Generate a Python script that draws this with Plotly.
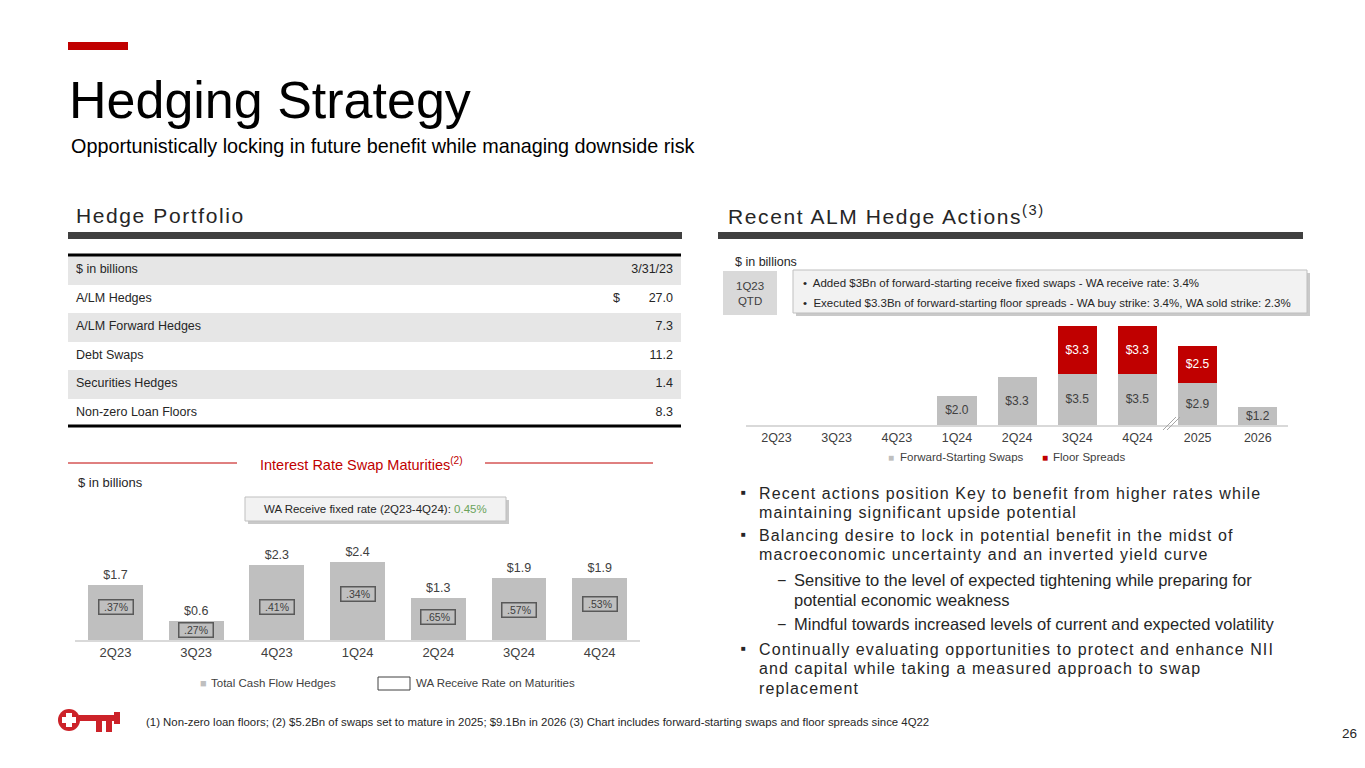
import plotly.graph_objects as go

# The page body has an 8px default margin, so the figure is laid out 8px in.
OFF = 8
W, H = 1365 - OFF, 768 - OFF
FONT = "Liberation Sans, Arial, sans-serif"
RED = "#c00000"
GRAY_BAR = "#bfbfbf"
DARK = "#262626"
MID = "#404040"

def X(px):
    return (px - OFF) / W

def Y(py):
    return 1 - (py - OFF) / H

# ---------------- data ----------------
table_labels = ["$ in billions", "A/LM Hedges", "A/LM Forward Hedges", "Debt Swaps",
                "Securities Hedges", "Non-zero Loan Floors"]
table_currency = ["", "$", "", "", "", ""]
table_values = ["3/31/23", "27.0", "7.3", "11.2", "1.4", "8.3"]

swap_quarters = ["2Q23", "3Q23", "4Q23", "1Q24", "2Q24", "3Q24", "4Q24"]
swap_maturities = [1.7, 0.6, 2.3, 2.4, 1.3, 1.9, 1.9]
swap_rates = [".37%", ".27%", ".41%", ".34%", ".65%", ".57%", ".53%"]
rate_label_pos = [1.02, 0.30, 1.02, 1.41, 0.70, 0.93, 1.10]  # label placement inside bars

alm_periods = ["2Q23", "3Q23", "4Q23", "1Q24", "2Q24", "3Q24", "4Q24", "2025", "2026"]
fwd_swaps = [None, None, None, 2.0, 3.3, 3.5, 3.5, 2.9, 1.2]
floor_spreads = [None, None, None, None, None, 3.3, 3.3, 2.5, None]

bullets = [
    ("main", ["Recent actions position Key to benefit from higher rates while",
              "maintaining significant upside potential"]),
    ("main", ["Balancing desire to lock in potential benefit in the midst of",
              "macroeconomic uncertainty and an inverted yield curve"]),
    ("sub", ["Sensitive to the level of expected tightening while preparing for",
             "potential economic weakness"]),
    ("sub", ["Mindful towards increased levels of current and expected volatility"]),
    ("main", ["Continually evaluating opportunities to protect and enhance NII",
              "and capital while taking a measured approach to swap",
              "replacement"]),
]
bullet_tops = [493, 535, 580, 624, 649]

fig = go.Figure()

# ---------------- table ----------------
row_fill = ["#ffffff" if i % 2 == 0 else "#e6e6e6" for i in range(len(table_labels) - 1)]
fig.add_trace(go.Table(
    domain=dict(x=[X(68), X(681)], y=[Y(427), Y(256)]),
    columnwidth=[530, 30, 53],
    header=dict(values=[table_labels[0], table_currency[0], table_values[0]],
                fill_color="#e6e6e6", line_color="rgba(0,0,0,0)",
                align=["left", "right", "right"], height=28.5,
                font=dict(family=FONT, size=12.5, color=DARK)),
    cells=dict(values=[table_labels[1:], table_currency[1:], table_values[1:]],
               fill_color=[row_fill, row_fill, row_fill],
               line_color="rgba(0,0,0,0)",
               align=["left", "right", "right"], height=28.5,
               font=dict(family=FONT, size=12.5, color=DARK)),
))

# ---------------- left bar chart ----------------
fig.add_trace(go.Bar(
    x=swap_quarters, y=swap_maturities, xaxis="x", yaxis="y",
    marker=dict(color=GRAY_BAR, line=dict(width=0)), width=0.68,
    text=[f"${v:.1f}" for v in swap_maturities], textposition="outside",
    textfont=dict(family=FONT, size=12.5, color=MID), cliponaxis=False,
    showlegend=False, hoverinfo="skip",
))

# ---------------- right stacked bar chart ----------------
fig.add_trace(go.Bar(
    x=alm_periods, y=fwd_swaps, xaxis="x2", yaxis="y2", name="Forward-Starting Swaps",
    marker=dict(color=GRAY_BAR, line=dict(width=0)), width=0.65,
    text=[None if v is None else f"${v:.1f}" for v in fwd_swaps],
    textposition="inside", insidetextanchor="middle", constraintext="none",
    textfont=dict(family=FONT, size=12, color=MID), showlegend=False, hoverinfo="skip",
))
fig.add_trace(go.Bar(
    x=alm_periods, y=floor_spreads, xaxis="x2", yaxis="y2", name="Floor Spreads",
    marker=dict(color=RED, line=dict(width=0)), width=0.65,
    text=[None if v is None else f"${v:.1f}" for v in floor_spreads],
    textposition="inside", insidetextanchor="middle", constraintext="none",
    textfont=dict(family=FONT, size=12, color="#ffffff"), showlegend=False, hoverinfo="skip",
))

shapes = []
annotations = []

def rect(x0, y0, x1, y1, fill, line=None, lw=0):
    shapes.append(dict(type="rect", xref="paper", yref="paper",
                       x0=X(x0), x1=X(x1), y0=Y(y1), y1=Y(y0),
                       fillcolor=fill, line=dict(color=line or fill, width=lw)))

def line(x0, y0, x1, y1, color, w):
    shapes.append(dict(type="line", xref="paper", yref="paper",
                       x0=X(x0), x1=X(x1), y0=Y(y0), y1=Y(y1),
                       line=dict(color=color, width=w)))

def text(x, y, s, size, color=DARK, xanchor="left", yanchor="middle", align="left", spacing=None):
    if spacing:
        s = f"<span style='letter-spacing:{spacing}px'>{s}</span>"
    annotations.append(dict(x=X(x), y=Y(y), xref="paper", yref="paper", text=s,
                            showarrow=False, xanchor=xanchor, yanchor=yanchor, align=align,
                            font=dict(family=FONT, size=size, color=color)))

# header decorations
rect(68, 42, 128, 50, RED)
text(67, 100, "Hedging Strategy", 52, "#000000")
text(69, 146, "Opportunistically locking in future benefit while managing downside risk", 19.8, "#000000")
text(74, 215, "Hedge Portfolio", 21, DARK, spacing=1.6)
text(726, 215, "Recent ALM Hedge Actions<sup>(3)</sup>", 21, DARK, spacing=1.6)
rect(68, 232, 682, 239, MID)
rect(718, 232, 1303, 239, MID)

# table borders
line(68, 255, 681, 255, "#000000", 3)
line(68, 426, 681, 426, "#000000", 3)

# left chart decorations
line(68, 463, 237, 463, RED, 1)
line(485, 463, 653, 463, RED, 1)
text(361, 464, "Interest Rate Swap Maturities<sup>(2)</sup>", 14.5, RED, xanchor="center")
text(76, 482, "$ in billions", 13, DARK)
rect(248, 500, 509, 524, "#c9c9c9")
rect(245, 497, 506, 521, "#f2f2f2", "#bfbfbf", 1)
text(375.5, 509, "WA Receive fixed rate (2Q23-4Q24): <span style='color:#6aa35a'>0.45%</span>",
     11.5, DARK, xanchor="center")

for q, r, p in zip(swap_quarters, swap_rates, rate_label_pos):
    annotations.append(dict(x=q, y=p, xref="x", yref="y", text=r, showarrow=False,
                            font=dict(family=FONT, size=10.5, color=MID),
                            bordercolor="#595959", borderwidth=1.5, borderpad=1,
                            width=31, height=11, xanchor="center", yanchor="middle"))

# left legend
text(198, 683, "■", 11, GRAY_BAR)
text(209, 683, "Total Cash Flow Hedges", 11.5, MID)
rect(378, 677, 410, 690, "rgba(0,0,0,0)", MID, 1)
text(414, 683, "WA Receive Rate on Maturities", 11.5, MID)

# right chart decorations
text(733, 262, "$ in billions", 12.5, DARK)
rect(723, 271, 777, 315, "#d9d9d9")
text(750, 293, "1Q23<br>QTD", 11.5, MID, xanchor="center", align="center")
rect(796, 273, 1310, 316, "#c9c9c9")
rect(793, 270, 1307, 313, "#f2f2f2", "#bfbfbf", 1)
text(801, 283, "•  Added $3Bn of forward-starting receive fixed swaps - WA receive rate: 3.4%", 11.5, DARK)
text(801, 303, "•  Executed $3.3Bn of forward-starting floor spreads - WA buy strike: 3.4%, WA sold strike: 2.3%", 11.5, DARK)
line(1163, 430, 1176, 417, "#a6a6a6", 1)
line(1167, 430, 1180, 417, "#a6a6a6", 1)
text(886, 457, "■", 10, GRAY_BAR)
text(898, 457, "Forward-Starting Swaps", 11.5, MID)
text(1040, 457, "■", 10, RED)
text(1051, 457, "Floor Spreads", 11.5, MID)

# bullet text
for (kind, lines), yy in zip(bullets, bullet_tops):
    if kind == "main":
        text(739, yy - 1, "■", 8, DARK)
        for ln in lines:
            text(757, yy, ln, 16, DARK, spacing=1.1)
            yy += 19.5
    else:
        text(775, yy, "−", 16, DARK)
        for ln in lines:
            text(792, yy, ln, 16.5, DARK)
            yy += 19.5

# footer
text(144, 722, "(1) Non-zero loan floors; (2) $5.2Bn of swaps set to mature in 2025; $9.1Bn in 2026 (3) Chart includes forward-starting swaps and floor spreads since 4Q22", 11.4, DARK)
text(1359, 733, "26", 13.5, DARK, xanchor="right")

# key logo (simplified)
KEY = "#cc2229"
shapes.append(dict(type="circle", xref="paper", yref="paper", x0=X(58), x1=X(80), y0=Y(731), y1=Y(709),
                   fillcolor=KEY, line=dict(width=0)))
rect(66, 713, 72, 727, "#ffffff")
rect(62, 717, 76, 723, "#ffffff")
rect(79, 715, 120, 721, KEY)
rect(114, 712, 120, 724, KEY)
rect(96, 721, 102, 732, KEY)
rect(106, 721, 112, 732, KEY)

fig.update_layout(
    width=W, height=H, margin=dict(l=0, r=0, t=0, b=0),
    paper_bgcolor="#ffffff", plot_bgcolor="#ffffff",
    barmode="stack", showlegend=False,
    font=dict(family=FONT, color=DARK),
    shapes=shapes, annotations=annotations,
    xaxis=dict(domain=[X(75.15), X(640.05)], anchor="y", showline=True, linecolor="#d9d9d9",
               linewidth=1.5, showgrid=False, ticks="", tickfont=dict(family=FONT, size=13, color=MID),
               fixedrange=True),
    yaxis=dict(domain=[Y(640), Y(542.5)], range=[0, 3], visible=False, fixedrange=True),
    xaxis2=dict(domain=[X(746.4), X(1287.9)], anchor="y2", showline=True, linecolor="#d9d9d9",
                linewidth=1.5, showgrid=False, ticks="", tickfont=dict(family=FONT, size=12.5, color=MID),
                fixedrange=True),
    yaxis2=dict(domain=[Y(425), Y(315.5)], range=[0, 7.5], visible=False, fixedrange=True),
)

fig.write_html("out.html")
